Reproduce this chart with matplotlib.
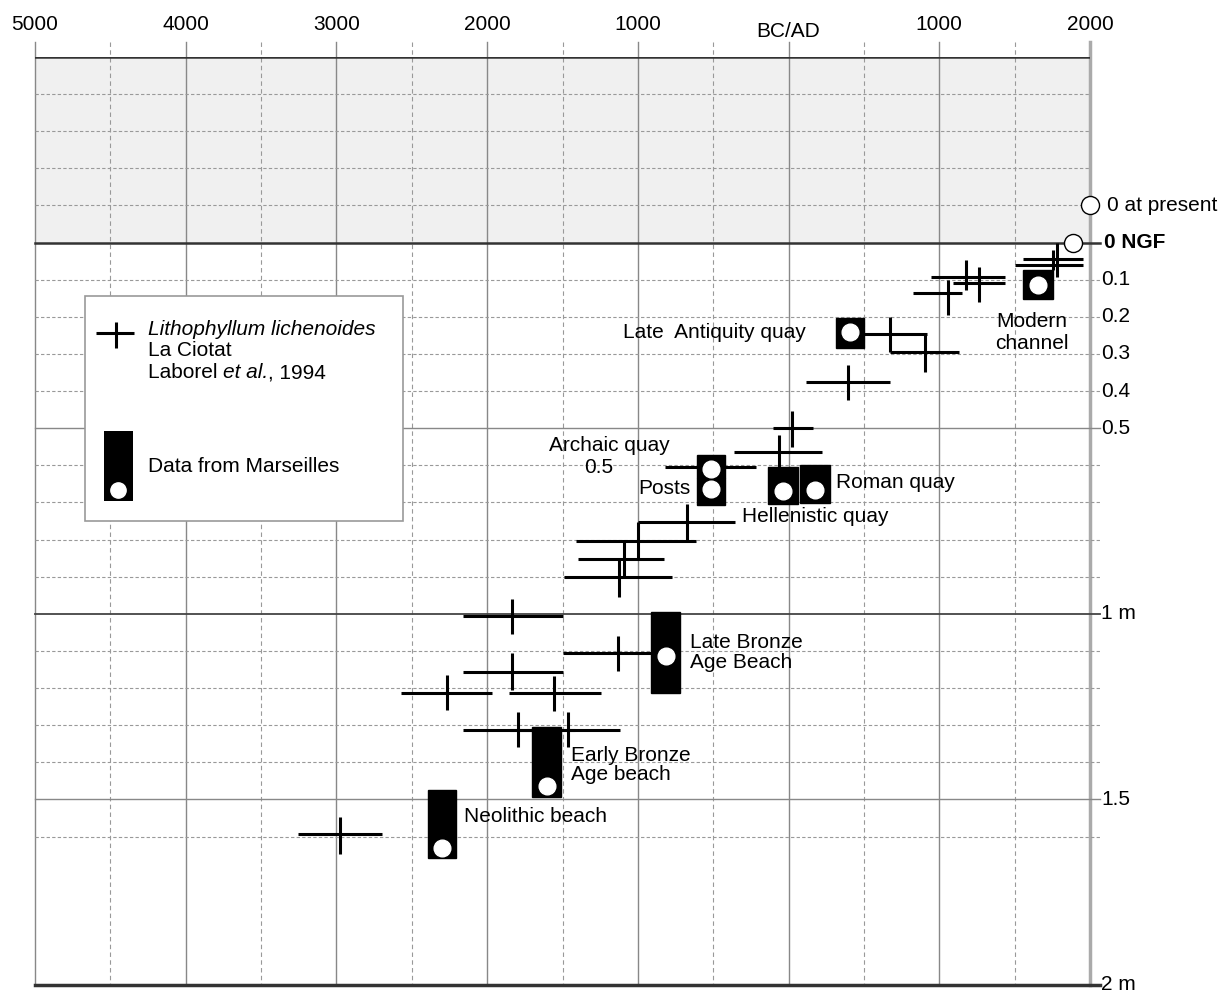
import numpy as np
import matplotlib
matplotlib.use('Agg')
import matplotlib.pyplot as plt

plt.rcParams['font.family'] = ['Liberation Sans', 'DejaVu Sans']

# Lithophyllum lichenoides (La Ciotat) - year (BC negative), depth below 0 NGF (m)
lith_year = [1755, 1782, 1178, 1264, 1059, 674, 906, 395, 23, -63, -514, -673,
             -998, -1091, -1125, -1835, -1131, -1835, -2266, -1556, -1795, -1463, -2976]
lith_year_lo = [1556, 1503, 946, 1092, 826, 450, 674, 116, -103, -361, -819, -998,
                -1410, -1397, -1490, -2160, -1496, -2160, -2571, -1855, -2160, -1848, -3255]
lith_year_hi = [1955, 1955, 1437, 1437, 1152, 919, 1132, 674, 163, 223, -215, -355,
                -614, -826, -773, -1496, -912, -1496, -1967, -1244, -1417, -1118, -2697]
lith_depth = [0.043, 0.059, 0.094, 0.108, 0.137, 0.245, 0.296, 0.375, 0.499, 0.563, 0.604, 0.752,
              0.803, 0.852, 0.900, 1.005, 1.105, 1.156, 1.213, 1.213, 1.313, 1.313, 1.593]
lith_depth_lo = [0.019, 0.0, 0.046, 0.065, 0.10, 0.20, 0.245, 0.329, 0.455, 0.518, 0.58, 0.704,
                 0.752, 0.803, 0.852, 0.96, 1.059, 1.105, 1.164, 1.167, 1.264, 1.264, 1.547]
lith_depth_hi = [0.073, 0.092, 0.127, 0.159, 0.194, 0.296, 0.348, 0.423, 0.55, 0.62, 0.63, 0.803,
                 0.849, 0.900, 0.954, 1.054, 1.154, 1.205, 1.259, 1.261, 1.358, 1.358, 1.647]

# Marseilles data (boxes)
mars_names = ['Modern channel', 'Late Antiquity quay', 'Archaic quay', 'Posts', 'Hellenistic quay',
              'Roman quay', 'Late Bronze Age Beach', 'Early Bronze Age beach', 'Neolithic beach']
mars_year_lo = [1556, 315, -607, -607, -136, 77, -912, -1702, -2392]
mars_year_hi = [1756, 501, -421, -421, 63, 276, -720, -1509, -2206]
mars_top = [0.073, 0.202, 0.571, 0.633, 0.604, 0.598, 0.995, 1.305, 1.474]
mars_bottom = [0.151, 0.283, 0.633, 0.706, 0.704, 0.701, 1.213, 1.493, 1.658]
mars_dot = [0.113, 0.240, 0.609, 0.663, 0.668, 0.666, 1.113, 1.464, 1.631]

top_ticks = [-5000, -4000, -3000, -2000, -1000, 0, 1000, 2000]
top_labels = ['5000', '4000', '3000', '2000', '1000', 'BC/AD', '1000', '2000']
right_ticks = [0.1, 0.2, 0.3, 0.4, 0.5, 1.0, 1.5, 2.0]
right_labels = ['0.1', '0.2', '0.3', '0.4', '0.5', '1 m', '1.5', '2 m']

fig = plt.figure(figsize=(12.3, 9.94), dpi=100)
ax = fig.add_axes([35 / 1230, 1 - 985 / 994, 1055 / 1230, 928 / 994])
ax.set_xlim(-5000, 2000)
ax.set_ylim(2.0, -0.5)
ax.axis('off')

fs = 15

# shaded band above 0 NGF
ax.axhspan(-0.5, 0, color='#f0f0f0', zorder=0)

# vertical grid
for yr in range(-5000, 2001, 500):
    if yr % 1000 == 0:
        ax.plot([yr, yr], [-0.54, 2.0], color='#888888', lw=1.0, zorder=1, clip_on=False)
    else:
        ax.plot([yr, yr], [-0.54, 2.0], color='#999999', lw=0.8, ls=(0, (4, 3)), zorder=1, clip_on=False)
ax.plot([2000, 2000], [-0.54, 2.0], color='#aaaaaa', lw=2.5, zorder=1, clip_on=False)

# horizontal grid
for d in np.round(np.arange(-0.4, 1.61, 0.1), 1):
    if d in (0.0, 0.5, 1.0, 1.5):
        continue
    x_end = 2000 if d < 0 else 2065
    ax.plot([-5000, x_end], [d, d], color='#999999', lw=0.8, ls=(0, (3, 2)), zorder=1, clip_on=False)
ax.plot([-5000, 2000], [-0.5, -0.5], color='#333333', lw=1.8, zorder=2)
ax.plot([-5000, 2065], [0, 0], color='#333333', lw=1.8, zorder=2, clip_on=False)
ax.plot([-5000, 2065], [0.5, 0.5], color='#888888', lw=1.0, zorder=1, clip_on=False)
ax.plot([-5000, 2065], [1.0, 1.0], color='#444444', lw=1.3, zorder=1, clip_on=False)
ax.plot([-5000, 2065], [1.5, 1.5], color='#888888', lw=1.0, zorder=1, clip_on=False)
ax.plot([-5000, 2065], [2.0, 2.0], color='#333333', lw=2.5, zorder=2, clip_on=False)

# labels around the frame
for yr, lab in zip(top_ticks, top_labels):
    ax.text(yr, -0.57 if lab == 'BC/AD' else -0.587, lab, ha='center', va='center', fontsize=fs, clip_on=False)
for d, lab in zip(right_ticks, right_labels):
    ax.text(2075, d, lab, ha='left', va='center', fontsize=fs, clip_on=False)

ax.plot([1888], [0], 'o', ms=13, mfc='white', mec='black', mew=1.0, zorder=6, clip_on=False)
ax.plot([2000], [-0.1], 'o', ms=13, mfc='white', mec='black', mew=1.0, zorder=6, clip_on=False)
ax.text(2110, -0.1, '0 at present', ha='left', va='center', fontsize=fs, clip_on=False)
ax.text(2090, 0, '0 NGF', ha='left', va='center', fontsize=fs, fontweight='bold', clip_on=False)

# Lithophyllum crosses
yr = np.array(lith_year)
dp = np.array(lith_depth)
xerr = [yr - np.array(lith_year_lo), np.array(lith_year_hi) - yr]
yerr = [dp - np.array(lith_depth_lo), np.array(lith_depth_hi) - dp]
ax.errorbar(yr, dp, xerr=xerr, yerr=yerr, fmt='none', ecolor='black', elinewidth=2.2, capsize=0, zorder=4)

# Marseilles boxes
lo = np.array(mars_year_lo)
hi = np.array(mars_year_hi)
top = np.array(mars_top)
bot = np.array(mars_bottom)
ax.bar(lo, bot - top, width=hi - lo, bottom=top, align='edge', color='black', edgecolor='black', zorder=5)
ax.plot((lo + hi) / 2, mars_dot, 'o', ms=12, color='white', mec='white', zorder=6)

# annotations
ax.text(116, 0.242, 'Late  Antiquity quay', ha='right', va='center', fontsize=fs)
ax.text(1616, 0.242, 'Modern\nchannel', ha='center', va='center', fontsize=fs, linespacing=1.25)
ax.text(-1191, 0.547, 'Archaic quay', ha='center', va='center', fontsize=fs)
ax.text(-1257, 0.606, '0.5', ha='center', va='center', fontsize=fs)
ax.text(-653, 0.663, 'Posts', ha='right', va='center', fontsize=fs)
ax.text(315, 0.646, 'Roman quay', ha='left', va='center', fontsize=fs)
ax.text(-308, 0.739, 'Hellenistic quay', ha='left', va='center', fontsize=fs)
ax.text(-653, 1.105, 'Late Bronze\nAge Beach', ha='left', va='center', fontsize=fs, linespacing=1.05)
ax.text(-1443, 1.407, 'Early Bronze\nAge beach', ha='left', va='center', fontsize=fs, linespacing=1.05)
ax.text(-2153, 1.545, 'Neolithic beach', ha='left', va='center', fontsize=fs)

# legend box
ax.bar(-4668, 0.749 - 0.143, width=2110, bottom=0.143, align='edge', color='white',
       edgecolor='#999999', linewidth=1.2, zorder=3)
ax.errorbar([-4462], [0.243], xerr=[[133], [119]], yerr=[[0.03], [0.04]], fmt='none',
            ecolor='black', elinewidth=2.2, capsize=0, zorder=4)
ax.text(-4250, 0.234, 'Lithophyllum lichenoides', ha='left', va='center', fontsize=fs, style='italic', zorder=4)
ax.text(-4250, 0.292, 'La Ciotat', ha='left', va='center', fontsize=fs, zorder=4)
t1 = ax.text(-4250, 0.350, 'Laborel ', ha='left', va='center', fontsize=fs, zorder=4)
t2 = ax.annotate('et al.', xy=(1, 0), xycoords=t1, ha='left', va='bottom', fontsize=fs, style='italic', zorder=4)
ax.annotate(', 1994', xy=(1, 0), xycoords=t2, ha='left', va='bottom', fontsize=fs, zorder=4)
ax.bar(-4542, 0.695 - 0.507, width=192, bottom=0.507, align='edge', color='black', zorder=4)
ax.plot([-4446], [0.666], 'o', ms=11, color='white', zorder=5)
ax.text(-4250, 0.604, 'Data from Marseilles', ha='left', va='center', fontsize=fs, zorder=4)

fig.savefig('out.png', dpi=100)
